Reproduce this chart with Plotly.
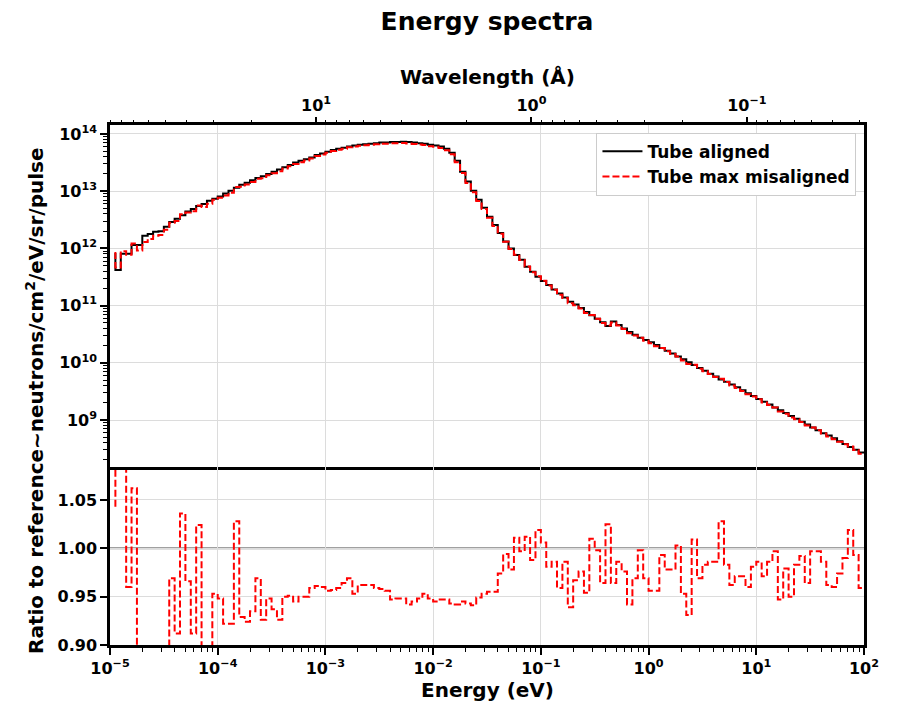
import numpy as np
import plotly.graph_objects as go

# 20 log bins per decade from 1e-5 to 1e2 eV; points sit on the upper bin edge (step "pre")
E_MIN_EXP, E_MAX_EXP, BINS_PER_DECADE = -5, 2, 20
energy = np.logspace(E_MIN_EXP, E_MAX_EXP, (E_MAX_EXP - E_MIN_EXP) * BINS_PER_DECADE + 1)[1:]

# neutrons/cm2/eV/sr/pulse, one row per half decade
flux_aligned = [
    8.3e11, 4.2e11, 8.1e11, 8.1e11, 1.15e12, 1.15e12, 1.66e12, 1.78e12, 1.95e12, 2.0e12,
    2.4e12, 2.9e12, 3.3e12, 3.8e12, 4.4e12, 4.9e12, 5.5e12, 6.0e12, 6.8e12, 7.4e12,
    8.1e12, 9.1e12, 1.02e13, 1.15e13, 1.29e13, 1.41e13, 1.55e13, 1.70e13, 1.82e13, 2.0e13,
    2.19e13, 2.40e13, 2.63e13, 2.88e13, 3.16e13, 3.39e13, 3.63e13, 3.89e13, 4.27e13, 4.57e13,
    4.90e13, 5.25e13, 5.50e13, 5.75e13, 6.03e13, 6.31e13, 6.46e13, 6.61e13, 6.76e13, 6.92e13,
    7.08e13, 7.08e13, 7.24e13, 7.24e13, 7.33e13, 7.24e13, 7.08e13, 6.92e13, 6.76e13, 6.46e13,
    6.31e13, 6.03e13, 5.50e13, 4.68e13, 3.39e13, 2.19e13, 1.48e13, 1.02e13, 7.08e12, 5.13e12,
    3.59e12, 2.57e12, 1.86e12, 1.32e12, 1.0e12, 7.67e11, 6.31e11, 4.79e11, 3.89e11, 3.20e11,
    2.69e11, 2.29e11, 1.91e11, 1.62e11, 1.38e11, 1.17e11, 1.05e11, 9.12e10, 7.76e10, 6.76e10,
    5.89e10, 5.13e10, 4.40e10, 5.25e10, 4.57e10, 3.98e10, 3.47e10, 3.09e10, 2.75e10, 2.51e10,
    2.29e10, 2.04e10, 1.82e10, 1.62e10, 1.45e10, 1.29e10, 1.15e10, 1.02e10, 9.12e9, 8.13e9,
    7.24e9, 6.46e9, 5.75e9, 5.13e9, 4.68e9, 4.17e9, 3.72e9, 3.31e9, 2.95e9, 2.63e9,
    2.34e9, 2.09e9, 1.86e9, 1.66e9, 1.48e9, 1.32e9, 1.17e9, 1.05e9, 9.33e8, 8.32e8,
    7.41e8, 6.61e8, 5.89e8, 5.37e8, 4.79e8, 4.27e8, 3.80e8, 3.39e8, 3.02e8, 2.69e8,
]

# misaligned / aligned
ratio = [
    1.043, 1.10, 1.10, 0.960, 1.062, 0.80, 0.78, 0.82, 0.85, 0.86,
    0.88, 0.969, 0.912, 1.036, 0.966, 0.912, 1.024, 0.88, 0.89, 0.953,
    0.948, 0.922, 0.922, 1.028, 0.929, 0.924, 0.935, 0.969, 0.926, 0.948,
    0.937, 0.926, 0.950, 0.951, 0.945, 0.950, 0.950, 0.959, 0.961, 0.960,
    0.956, 0.957, 0.959, 0.964, 0.969, 0.953, 0.962, 0.962, 0.962, 0.959,
    0.958, 0.956, 0.947, 0.948, 0.948, 0.942, 0.945, 0.948, 0.953, 0.948,
    0.945, 0.947, 0.947, 0.943, 0.942, 0.945, 0.943, 0.941, 0.949, 0.953,
    0.955, 0.955, 0.974, 0.994, 0.978, 1.011, 0.997, 1.012, 0.988, 1.019,
    1.006, 0.981, 0.986, 0.959, 0.986, 0.939, 0.967, 0.976, 0.954, 1.010,
    0.998, 0.964, 1.025, 0.964, 0.986, 0.976, 0.942, 0.969, 0.998, 0.969,
    0.956, 0.956, 0.993, 0.978, 0.978, 1.003, 0.953, 0.931, 1.009, 0.969,
    0.983, 0.986, 0.986, 1.028, 0.983, 0.962, 0.971, 0.971, 0.960, 0.981,
    0.986, 0.971, 0.986, 0.997, 0.947, 0.979, 0.950, 0.983, 0.992, 0.964,
    0.997, 0.997, 0.986, 0.962, 0.960, 0.974, 0.990, 1.019, 0.993, 0.959,
]

flux_misaligned = np.array(flux_aligned) * np.array(ratio)

LAMBDA_CONST = 0.286  # wavelength (A) = 0.286 / sqrt(E[eV])
FONT = "DejaVu Sans"
GRID = "#dcdcdc"
DASH = "7px,3px"

# page body adds an 8px margin, so the figure is drawn 8px smaller and everything sits 8px up/left
W, H = 896, 699
L, R, T, B = 102, 40, 117, 62
PLOT_H = H - T - B


def sup(exp):
    return f"10<sup>{str(exp).replace('-', '−')}</sup>"


def minor_vals(lo, hi):
    return [m * 10.0 ** d for d in range(lo, hi) for m in range(2, 10)]


def paper_y(px):
    # pixel row in the figure -> paper coordinate
    return (H - B - px) / PLOT_H


e_ticks = [10.0 ** d for d in range(-5, 3)]
flux_ticks = [10.0 ** d for d in range(9, 15)]
lam_ticks = [10.0, 1.0, 0.1]

fig = go.Figure()
fig.add_trace(go.Scatter(
    x=energy, y=flux_aligned, mode="lines", name="Tube aligned",
    line=dict(color="black", width=2, shape="vh"), xaxis="x2", yaxis="y2",
))
fig.add_trace(go.Scatter(
    x=energy, y=flux_misaligned, mode="lines", name="Tube max misaligned",
    line=dict(color="red", width=2, dash=DASH, shape="vh"), xaxis="x2", yaxis="y2",
))
fig.add_trace(go.Scatter(
    x=energy, y=ratio, mode="lines", showlegend=False,
    line=dict(color="red", width=2, dash=DASH, shape="vh"), xaxis="x", yaxis="y",
))
# invisible trace so the wavelength axis gets drawn
lam = LAMBDA_CONST / np.sqrt(energy)
fig.add_trace(go.Scatter(
    x=lam, y=flux_aligned, mode="markers", marker=dict(opacity=0), showlegend=False,
    hoverinfo="skip", xaxis="x3", yaxis="y2",
))

tickfont = dict(family=FONT, size=16, color="black", weight="bold")
labelfont = dict(family=FONT, size=20, color="black", weight="bold")
line = dict(showline=True, linewidth=2.5, linecolor="black")
split = 175 / PLOT_H

fig.update_layout(
    width=W, height=H,
    margin=dict(l=L, r=R, t=T, b=B),
    plot_bgcolor="white", paper_bgcolor="white",
    font=dict(family=FONT, color="black"),
    title=dict(text="Energy spectra", x=0.5, xref="paper", y=1, yref="container", yanchor="top",
               pad=dict(t=4), font=dict(family=FONT, size=25, weight="bold")),
    xaxis=dict(
        domain=[0, 1], anchor="y", type="log", range=[-5, 2],
        tickvals=e_ticks, ticktext=[sup(d) for d in range(-5, 3)],
        ticks="outside", ticklen=7, tickwidth=1.5, tickcolor="black", tickfont=tickfont,
        minor=dict(tickvals=minor_vals(-5, 2), ticks="outside", ticklen=4, tickwidth=1,
                   tickcolor="black", showgrid=False),
        showgrid=True, gridcolor=GRID, gridwidth=1, mirror=True, **line,
    ),
    xaxis2=dict(
        domain=[0, 1], anchor="y2", type="log", range=[-5, 2], matches="x", side="top",
        tickvals=e_ticks, showticklabels=False, ticks="",
        showgrid=True, gridcolor=GRID, gridwidth=1, mirror=False, **line,
    ),
    xaxis3=dict(
        overlaying="x2", anchor="y2", side="top", type="log",
        range=[np.log10(LAMBDA_CONST / np.sqrt(1e-5)), np.log10(LAMBDA_CONST / np.sqrt(1e2))],
        tickvals=lam_ticks, ticktext=[sup(1), sup(0), sup(-1)],
        ticks="outside", ticklen=7, tickwidth=1.5, tickcolor="black", tickfont=tickfont,
        minor=dict(tickvals=minor_vals(-2, 2), ticks="outside", ticklen=4, tickwidth=1,
                   tickcolor="black", showgrid=False),
        showgrid=False, showline=False,
    ),
    yaxis=dict(
        domain=[0, split], anchor="x", range=[0.9, 1.081],
        tickvals=[0.90, 0.95, 1.00, 1.05], ticktext=["0.90", "0.95", "1.00", "1.05"],
        ticks="outside", ticklen=7, tickwidth=1.5, tickcolor="black", tickfont=tickfont,
        showgrid=True, gridcolor=GRID, gridwidth=1, zeroline=False, mirror=True, **line,
    ),
    yaxis2=dict(
        domain=[split, 1], anchor="x2", type="log", range=[8.126, 14.157],
        tickvals=flux_ticks, ticktext=[sup(d) for d in range(9, 15)],
        ticks="outside", ticklen=7, tickwidth=1.5, tickcolor="black", tickfont=tickfont,
        minor=dict(tickvals=minor_vals(8, 15), ticks="outside", ticklen=4, tickwidth=1,
                   tickcolor="black", showgrid=False),
        showgrid=True, gridcolor=GRID, gridwidth=1, mirror=True, **line,
    ),
    legend=dict(
        x=0.99, y=0.985, xanchor="right", yanchor="top",
        bgcolor="white", bordercolor="#cccccc", borderwidth=1,
        font=dict(family=FONT, size=17, weight="bold"), itemwidth=40,
    ),
    shapes=[dict(type="line", xref="x domain", yref="y", x0=0, x1=1, y0=1.0, y1=1.0,
                 line=dict(color="#808080", width=2), layer="below")],
    annotations=[
        dict(text="Wavelength (Å)", xref="paper", yref="paper", x=0.5, y=paper_y(77 - 8),
             showarrow=False, yanchor="middle", font=labelfont),
        dict(text="Energy (eV)", xref="paper", yref="paper", x=0.5, y=paper_y(690 - 8),
             showarrow=False, yanchor="middle", font=labelfont),
        dict(text="Ratio to reference~neutrons/cm<sup>2</sup>/eV/sr/pulse",
             xref="paper", yref="paper", x=(35 - 8 - L) / (W - L - R), y=paper_y(401 - 8),
             textangle=-90, showarrow=False, xanchor="center", yanchor="middle",
             font=labelfont),
    ],
)

fig.write_html("out.html")
